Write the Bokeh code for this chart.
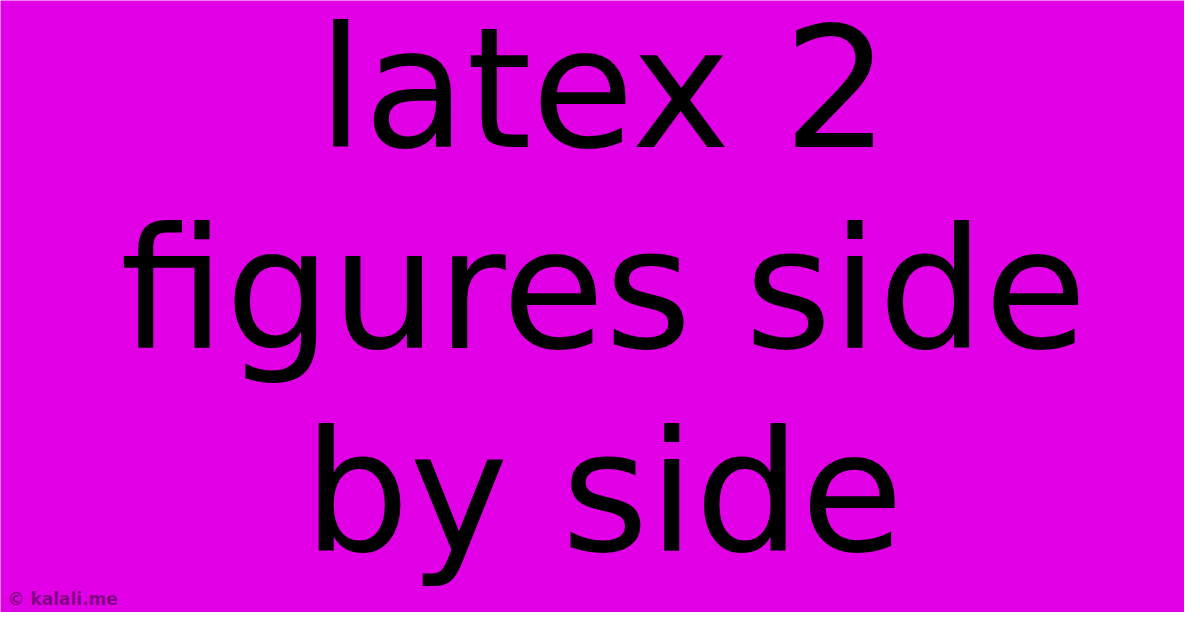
from bokeh.plotting import figure
from bokeh.models import Range1d, ColumnDataSource
from bokeh.core.properties import value
from bokeh.embed import file_html
from bokeh.resources import INLINE

# content
title_lines = ["latex 2", "figures side", "by side"]
watermark = "\u00a9 kalali.me"

# layout (image pixel coordinates, compensating for Bokeh's baseline offset)
line_x = [611, 611, 611]
line_y = [96, 297, 500]
wm_x = 15
wm_y = 606

W, H = 1184, 612
p = figure(width=W, height=H, output_backend="svg", toolbar_location=None,
           x_range=Range1d(8, 8 + W), y_range=Range1d(8 + H, 8),
           min_border=0, background_fill_color="#E100E6",
           border_fill_color="#E100E6", outline_line_color=None)
p.axis.visible = False
p.grid.visible = False

src = ColumnDataSource(dict(x=line_x, y=line_y, t=title_lines))
p.text(x="x", y="y", text="t", source=src, text_align="center",
       text_baseline="alphabetic", text_font=value("DejaVu Sans"),
       text_font_size="167px", text_color="#000000")

p.text(x=[wm_x], y=[wm_y], text=[watermark], text_align="left",
       text_baseline="alphabetic", text_font=value("DejaVu Sans"),
       text_font_style="bold", text_font_size="17px",
       text_color="#000000", text_alpha=0.45)

open("out.html", "w").write(file_html(p, INLINE))
